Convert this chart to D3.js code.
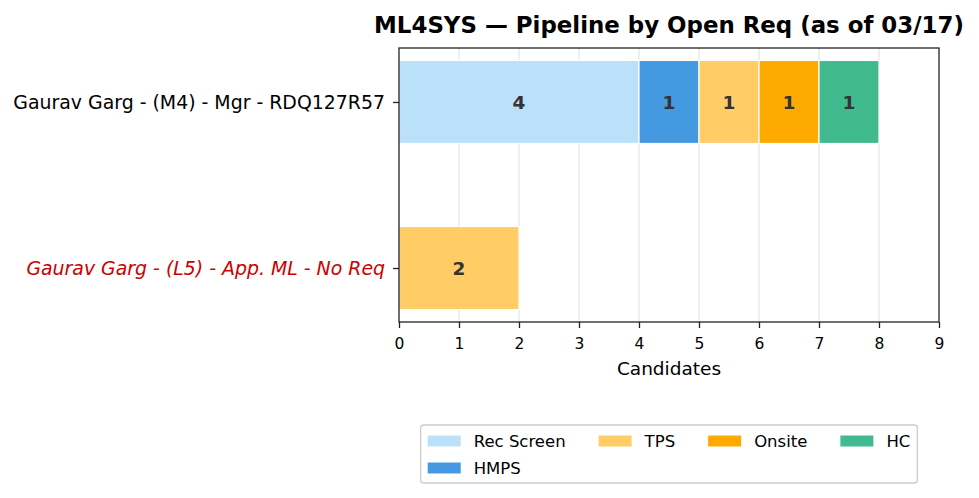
<!DOCTYPE html>
<html lang="en">
<head>
<meta charset="UTF-8">
<title>ML4SYS Pipeline by Open Req</title>
<script src="https://d3js.org/d3.v7.min.js"></script>
<style>
    body { margin: 0; background: #fff; }
    svg, svg text { font-family: "DejaVu Sans", sans-serif; }
</style>
</head>
<body>
<div id="chart"></div>
<script>
    // data
    const reqs = ["Gaurav Garg - (M4) - Mgr - RDQ127R57", "Gaurav Garg - (L5) - App. ML - No Req"];
    const noReq = [false, true];
    const stages = ["Rec Screen", "HMPS", "TPS", "Onsite", "HC"];
    const recScreen = [4, 0];
    const hmps = [1, 0];
    const tps = [1, 2];
    const onsite = [1, 0];
    const hc = [1, 0];
    const stageColors = ["#bbe1fa", "#4499e0", "#ffcc66", "#ffaa00", "#41ba8f"];
    const xTicks = [0, 1, 2, 3, 4, 5, 6, 7, 8, 9];

    const W = 979, H = 498;
    const margin = { top: 48, right: 40, bottom: 176, left: 399 };
    const plotW = W - margin.left - margin.right;
    const plotH = H - margin.top - margin.bottom;

    const rows = reqs.map((r, i) => ({
        req: r,
        "Rec Screen": recScreen[i], "HMPS": hmps[i], "TPS": tps[i], "Onsite": onsite[i], "HC": hc[i]
    }));
    const series = d3.stack().keys(stages)(rows);

    const svg = d3.select("#chart").append("svg")
        .attr("width", W).attr("height", H);
    const g = svg.append("g").attr("transform", `translate(${margin.left},${margin.top})`);

    const x = d3.scaleLinear().domain([0, 9]).range([0, plotW]);
    const y = d3.scaleLinear().domain([-0.325, reqs.length - 1 + 0.325]).range([0, plotH]);
    const color = d3.scaleOrdinal().domain(stages).range(stageColors);
    const barH = y(0.25) - y(-0.25);

    // grid
    g.append("g").selectAll("line").data(xTicks.slice(1, -1)).join("line")
        .attr("x1", d => x(d)).attr("x2", d => x(d))
        .attr("y1", 0).attr("y2", plotH)
        .attr("stroke", "#e6e6e6").attr("stroke-width", 1.3);

    // bars
    g.append("g").selectAll("g").data(series).join("g")
        .attr("fill", d => color(d.key))
        .selectAll("rect").data(d => d.map((v, i) => ({ v, i, key: d.key }))).join("rect")
        .filter(d => d.v[1] > d.v[0])
        .attr("x", d => x(d.v[0]))
        .attr("y", d => y(d.i) - barH / 2)
        .attr("width", d => x(d.v[1]) - x(d.v[0]))
        .attr("height", barH)
        .attr("stroke", "#fff").attr("stroke-width", 1.2);

    // value labels
    series.forEach(s => {
        s.forEach((v, i) => {
            const n = v[1] - v[0];
            if (n <= 0) return;
            g.append("text")
                .attr("x", x((v[0] + v[1]) / 2))
                .attr("y", y(i))
                .attr("dy", "0.36em")
                .attr("text-anchor", "middle")
                .attr("font-size", 18.5).attr("font-weight", "bold")
                .attr("fill", "#333")
                .text(n);
        });
    });

    // axes
    const xAxis = g.append("g")
        .attr("transform", `translate(0,${plotH})`)
        .call(d3.axisBottom(x).tickValues(xTicks).tickFormat(d3.format("d")).tickSize(6).tickPadding(10).tickSizeOuter(0));
    xAxis.attr("font-family", null).attr("font-size", null);
    xAxis.selectAll("text").attr("font-size", 15.5).attr("fill", "#000");

    const yAxis = g.append("g")
        .call(d3.axisLeft(y).tickValues(d3.range(reqs.length)).tickFormat(i => reqs[i]).tickSize(6).tickPadding(8).tickSizeOuter(0));
    yAxis.attr("font-family", null).attr("font-size", null);
    yAxis.selectAll("text")
        .attr("font-size", 18.9)
        .attr("fill", i => noReq[i] ? "#cc0000" : "#000")
        .attr("font-style", i => noReq[i] ? "italic" : "normal");

    svg.selectAll(".domain").remove();
    svg.selectAll(".tick line").attr("stroke", "#222").attr("stroke-width", 1.3);

    // frame
    g.append("rect").attr("width", plotW).attr("height", plotH)
        .attr("fill", "none").attr("stroke", "#222").attr("stroke-width", 1.3);

    // titles
    svg.append("text")
        .attr("x", margin.left + plotW / 2).attr("y", 33)
        .attr("text-anchor", "middle").attr("font-size", 22.9).attr("font-weight", "bold")
        .text("ML4SYS \u2014 Pipeline by Open Req (as of 03/17)");
    svg.append("text")
        .attr("x", margin.left + plotW / 2).attr("y", 375)
        .attr("text-anchor", "middle").attr("font-size", 18.5)
        .text("Candidates");

    // legend: 4 columns, filled column by column (first columns take the extra entries)
    const fs = 16.5, ncol = 4;
    const base = Math.floor(stages.length / ncol), extra = stages.length % ncol;
    const cols = [];
    let k = 0;
    for (let c = 0; c < ncol; c++) {
        const n = base + (c < extra ? 1 : 0);
        cols.push(stages.slice(k, k + n));
        k += n;
    }
    const handleW = 33, handleH = 11, textPad = 13, colGap = 33, rowGap = 27, pad = 7;
    const leg = svg.append("g");
    let cx = 0;
    cols.forEach(col => {
        let maxW = 0;
        col.forEach((s, r) => {
            const t = leg.append("text").attr("font-size", fs).attr("fill", "#000")
                .attr("x", cx + handleW + textPad).attr("y", r * rowGap).attr("dy", "0.36em").text(s);
            maxW = Math.max(maxW, t.node().getComputedTextLength());
            leg.append("rect").attr("x", cx).attr("y", r * rowGap - handleH / 2)
                .attr("width", handleW).attr("height", handleH).attr("fill", color(s));
        });
        cx += handleW + textPad + maxW + colGap;
    });
    const legW = cx - colGap + 2 * pad;
    const legX = margin.left + plotW / 2 - legW / 2;
    leg.insert("rect", ":first-child")
        .attr("x", -pad).attr("y", -16).attr("width", legW).attr("height", 58)
        .attr("rx", 3).attr("fill", "#fff").attr("stroke", "#cccccc").attr("stroke-width", 1.3);
    leg.attr("transform", `translate(${legX + pad},441)`);
</script>
</body>
</html>
